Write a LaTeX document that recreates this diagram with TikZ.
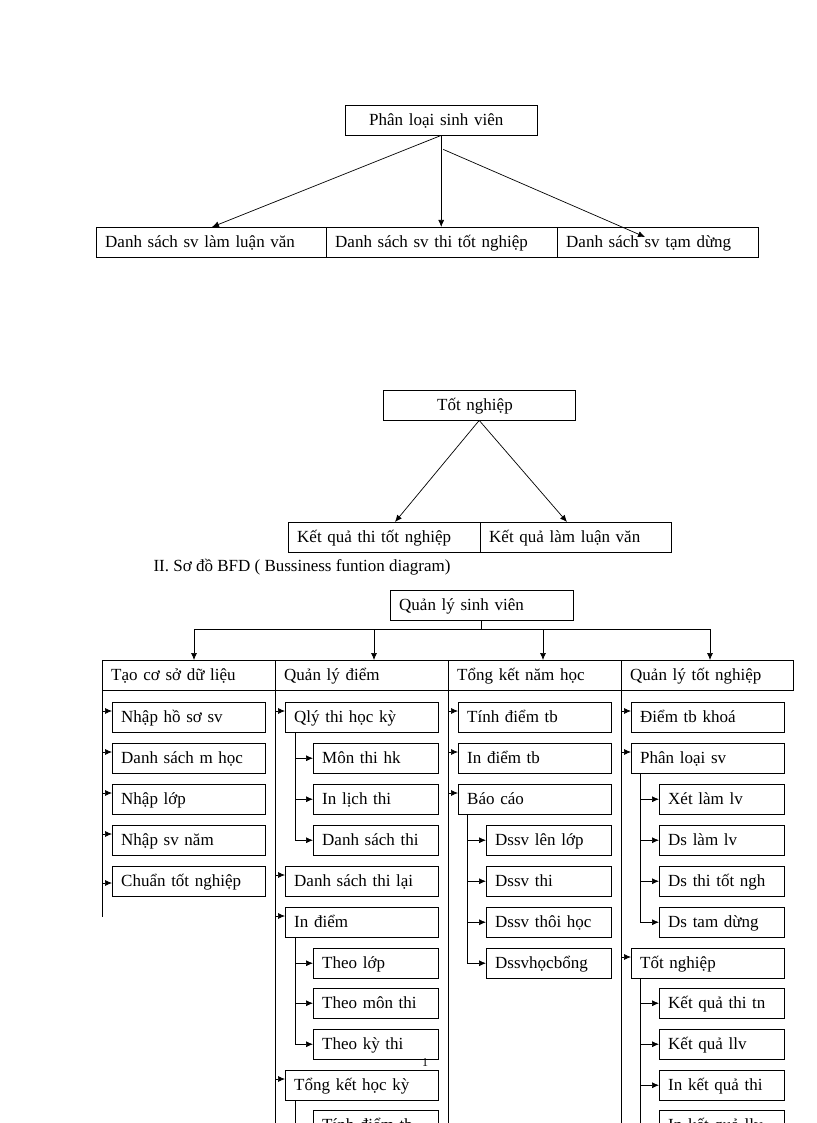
\documentclass[tikz,border=0pt]{standalone}
\usepackage{fontspec}
\setmainfont{Liberation Serif}
\usetikzlibrary{arrows.meta}
\begin{document}
\begin{tikzpicture}[x=1pt,y=-1pt,
  box/.style={draw,thin,anchor=north west,minimum height=30pt,inner xsep=9pt,inner ysep=0pt,text height=13pt,text depth=2pt,align=left,font=\fontsize{17}{19}\selectfont},
  ln/.style={draw,line width=0.7pt},
  arr/.style={ln,-{Latex[length=7pt,width=6pt]}}]
\useasboundingbox (0,0) rectangle (816,1123);
\clip (0,0) rectangle (816,1123);
\newcommand\bx[5]{\node[box,text width=#4pt-18pt] (#1) at (#2,#3) {#5};}
% top
\bx{pl}{345}{105}{192}{\hspace*{15pt}Phân loại sinh viên}
\bx{a1}{96}{227}{230}{Danh sách sv làm luận văn}
\bx{a2}{326}{227}{231}{Danh sách sv thi tốt nghiệp}
\bx{a3}{557}{227}{201}{Danh sách sv tạm dừng}
\coordinate (a3e) at (645,237);
\draw[arr] (pl.south) -- (212,227);
\draw[arr] (pl.south) -- (a2.north -| pl.south);
\draw[arr] ([xshift=2pt,yshift=-14pt]pl.south) -- (a3e);
% second
\bx{tn}{383}{390}{192}{\hspace*{45pt}Tốt nghiệp}
\bx{b1}{288}{522}{192}{Kết quả thi tốt nghiệp}
\bx{b2}{480}{522}{191}{Kết quả làm luận văn}
\draw[arr] (tn.south) -- (395,522);
\draw[arr] (tn.south) -- (567,522);
\node[anchor=west,font=\fontsize{17}{19}\selectfont] (cap) at (150,567) {II. Sơ đồ BFD ( Bussiness funtion diagram)};
% BFD
\bx{q}{390}{590}{183}{Quản lý sinh viên}
\bx{h1}{102}{660}{173}{Tạo cơ sở dữ liệu}
\bx{h2}{275}{660}{173}{Quản lý điểm}
\bx{h3}{448}{660}{173}{Tổng kết năm học}
\bx{h4}{621}{660}{172}{Quản lý tốt nghiệp}
\coordinate (bl) at (194,629);
\coordinate (br) at (710,629);
\draw[ln] (q.south) -- (q.south |- bl);
\draw[ln] (bl) -- (br);
\foreach \x in {194,374,543,710} \draw[arr] (\x,629) -- (\x,660);
% column lines
\draw[ln] (h1.south west) -- (102,917);
\draw[ln] (h2.south west) -- (275,1123);
\draw[ln] (h3.south west) -- (448,1123);
\draw[ln] (h4.south west) -- (621,1123);
% col1
\bx{c11}{112}{702}{153}{Nhập hồ sơ sv}
\bx{c12}{112}{743}{153}{Danh sách m học}
\bx{c13}{112}{784}{153}{Nhập lớp}
\bx{c14}{112}{825}{153}{Nhập sv năm}
\bx{c15}{112}{866}{153}{Chuẩn tốt nghiệp}
\foreach \n in {c11,c12,c13,c14} \draw[arr] ([yshift=-9pt]\n.north west -| h1.west) -- ([yshift=-9pt]\n.north west);
\draw[arr] ([yshift=-17pt]c15.north west -| h1.west) -- ([yshift=-17pt]c15.north west);
% col2
\bx{m1}{285}{702}{153}{Qlý thi học kỳ}
\bx{m2}{285}{866}{153}{Danh sách thi lại}
\bx{m3}{285}{907}{153}{In điểm}
\bx{m4}{285}{1070}{153}{Tổng kết học kỳ}
\bx{s11}{313}{743}{125}{Môn thi hk}
\bx{s12}{313}{784}{125}{In lịch thi}
\bx{s13}{313}{825}{125}{Danh sách thi}
\bx{s21}{313}{948}{125}{Theo lớp}
\bx{s22}{313}{988}{125}{Theo môn thi}
\bx{s23}{313}{1029}{125}{Theo kỳ thi}
\bx{s31}{313}{1110}{125}{Tính điểm tb}
\foreach \n in {m1,m2,m3,m4} \draw[arr] ([yshift=-9pt]\n.north west -| h2.west) -- ([yshift=-9pt]\n.north west);
\draw[ln] (m1.south -| 295,0) -- (s13.west -| 295,0);
\draw[ln] (m3.south -| 295,0) -- (s23.west -| 295,0);
\draw[ln] (m4.south -| 295,0) -- (295,1123);
\foreach \n in {s11,s12,s13,s21,s22,s23} \draw[arr] (\n.west -| 295,0) -- (\n.west);
% col3
\bx{n1}{458}{702}{153}{Tính điểm tb}
\bx{n2}{458}{743}{153}{In điểm tb}
\bx{n3}{458}{784}{153}{Báo cáo}
\bx{t1}{486}{825}{125}{Dssv lên lớp}
\bx{t2}{486}{866}{125}{Dssv thi}
\bx{t3}{486}{907}{125}{Dssv thôi học}
\bx{t4}{486}{948}{125}{Dssvhọcbổng}
\foreach \n in {n1,n2,n3} \draw[arr] ([yshift=-9pt]\n.north west -| h3.west) -- ([yshift=-9pt]\n.north west);
\draw[ln] (n3.south -| 467,0) -- (t4.west -| 467,0);
\foreach \n in {t1,t2,t3,t4} \draw[arr] (\n.west -| 467,0) -- (\n.west);
% col4
\bx{p1}{631}{702}{153}{Điểm tb  khoá}
\bx{p2}{631}{743}{153}{Phân loại sv}
\bx{p3}{631}{948}{153}{Tốt nghiệp}
\bx{u1}{659}{784}{125}{Xét làm lv}
\bx{u2}{659}{825}{125}{Ds làm lv}
\bx{u3}{659}{866}{125}{Ds thi tốt ngh}
\bx{u4}{659}{907}{125}{Ds tam dừng}
\bx{v1}{659}{988}{125}{Kết quả thi tn}
\bx{v2}{659}{1029}{125}{Kết quả llv}
\bx{v3}{659}{1070}{125}{In kết quả thi}
\bx{v4}{659}{1110}{125}{In kết quả llv}
\foreach \n in {p1,p2,p3} \draw[arr] ([yshift=-9pt]\n.north west -| h4.west) -- ([yshift=-9pt]\n.north west);
\draw[ln] (p2.south -| 640,0) -- (u4.west -| 640,0);
\draw[ln] (p3.south -| 640,0) -- (640,1123);
\foreach \n in {u1,u2,u3,u4,v1,v2,v3} \draw[arr] (\n.west -| 640,0) -- (\n.west);
\node[font=\fontsize{12}{12}\selectfont,inner sep=0pt] (pg) at (425,1063) {1};
\end{tikzpicture}
\end{document}
